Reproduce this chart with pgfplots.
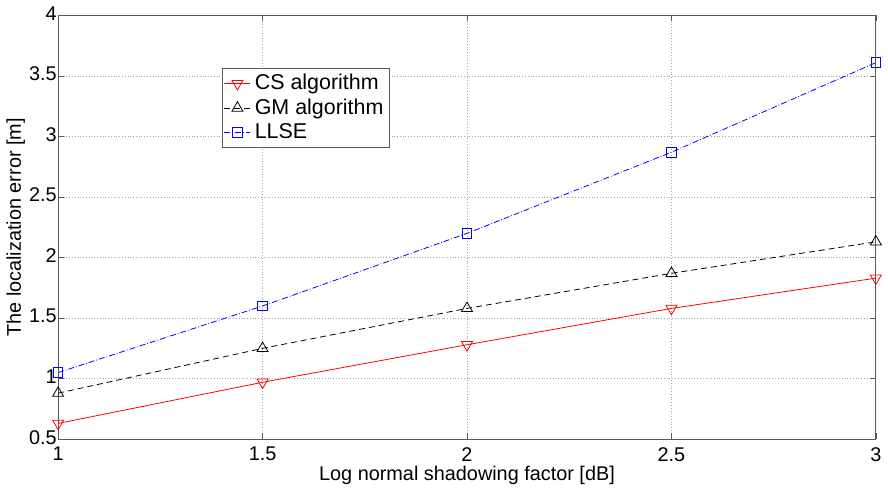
\documentclass[border=0pt]{standalone}
\usepackage{pgfplots}
\pgfplotsset{compat=1.18}
\usepackage{fontspec}
\setmainfont{Liberation Sans}
\begin{document}
\begin{tikzpicture}
\begin{axis}[
  scale only axis,
  width=412pt, height=213.5pt,
  xmin=1, xmax=3, ymin=0.5, ymax=4,
  xtick={1,1.5,2,2.5,3}, ytick={0.5,1,1.5,2,2.5,3,3.5,4},
  tick align=inside, tick pos=both,
  major tick length=3pt,
  grid=major,
  grid style={densely dotted, gray!70},
  axis line style={gray!70!black},
  tick style={gray!70!black},
  /pgf/number format/assume math mode=true,
  ticklabel style={font=\fontsize{10}{12}\selectfont},
  yticklabel style={inner xsep=0.5pt, yshift=1pt},
  xticklabel style={yshift=-0.5pt},
  label style={font=\fontsize{10}{12}\selectfont},
  xlabel={Log normal shadowing factor [dB]},
  ylabel={The localization error [m]},
  xlabel style={yshift=4.5pt},
  ylabel style={yshift=-2pt},
  legend style={at={(rel axis cs:0.2,0.876)}, anchor=north west,
    draw=gray!70!black, font=\fontsize{10.8}{12}\selectfont,
    inner sep=1pt, row sep=-1pt},
  legend cell align=left,
  legend image code/.code={\draw[mark repeat=2,mark phase=2] plot coordinates {(0cm,0cm)(0.23cm,0cm)(0.46cm,0cm)};},
]
\addplot[red, mark=triangle, mark options={solid, rotate=180, scale=1.6}]
  coordinates {(1,0.63) (1.5,0.97) (2,1.28) (2.5,1.58) (3,1.83)};
\addlegendentry{CS algorithm}
\addplot[black, densely dashed, mark=triangle, mark options={solid, scale=1.6}]
  coordinates {(1,0.88) (1.5,1.25) (2,1.58) (2.5,1.87) (3,2.13)};
\addlegendentry{GM algorithm}
\addplot[blue, densely dash dot, mark=square, mark options={solid, scale=1.2}]
  coordinates {(1,1.05) (1.5,1.60) (2,2.20) (2.5,2.87) (3,3.61)};
\addlegendentry{LLSE}
\end{axis}
\end{tikzpicture}
\end{document}
